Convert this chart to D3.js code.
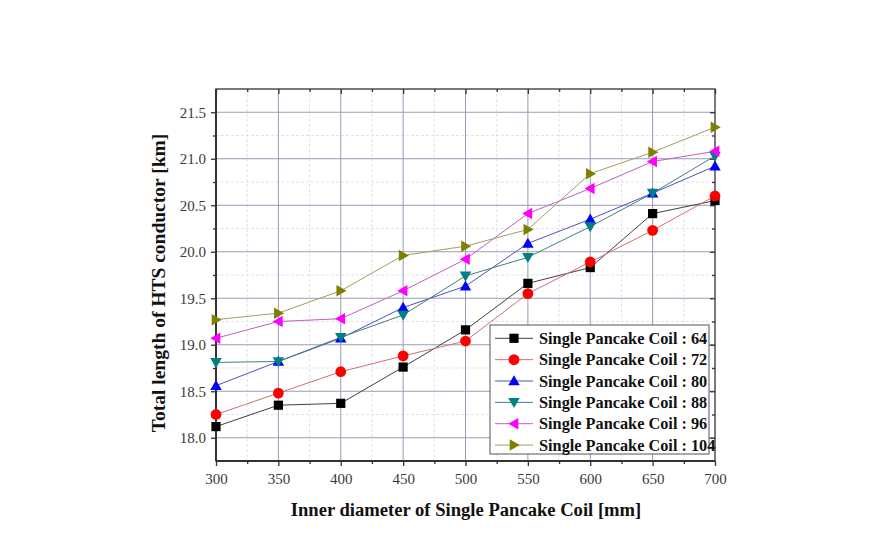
<!DOCTYPE html>
<html><head><meta charset="utf-8">
<script src="https://cdn.jsdelivr.net/npm/d3@7"></script>
<style>body{margin:0;background:#fff}svg{display:block}</style>
</head><body>
<svg id="c" width="891" height="534"></svg>
<script>
const xValues = [300, 350, 400, 450, 500, 550, 600, 650, 700];
const seriesNames = ["Single Pancake Coil : 64","Single Pancake Coil : 72","Single Pancake Coil : 80","Single Pancake Coil : 88","Single Pancake Coil : 96","Single Pancake Coil : 104"];
const coil64  = [18.12, 18.35, 18.37, 18.76, 19.16, 19.66, 19.83, 20.41, 20.55];
const coil72  = [18.25, 18.48, 18.71, 18.88, 19.04, 19.55, 19.89, 20.23, 20.60];
const coil80  = [18.56, 18.82, 19.07, 19.40, 19.63, 20.09, 20.35, 20.63, 20.92];
const coil88  = [18.81, 18.82, 19.08, 19.32, 19.74, 19.94, 20.27, 20.63, 21.03];
const coil96  = [19.07, 19.25, 19.28, 19.58, 19.92, 20.41, 20.68, 20.97, 21.08];
const coil104 = [19.27, 19.34, 19.58, 19.96, 20.06, 20.24, 20.84, 21.07, 21.34];
const xTicks = [300, 350, 400, 450, 500, 550, 600, 650, 700];
const yTicks = [18.0, 18.5, 19.0, 19.5, 20.0, 20.5, 21.0, 21.5];
const xTitle = "Inner diameter of Single Pancake Coil [mm]";
const yTitle = "Total length of HTS conductor [km]";

const allSeries = [coil64, coil72, coil80, coil88, coil96, coil104];
const colors = ["#000000", "#ff0000", "#0000ff", "#008080", "#ff00ff", "#808000"];
const lineColors = ["#404040", "#d07070", "#5050c0", "#408080", "#c060c0", "#a0a060"];
const shapes = ["square", "circle", "up", "down", "left", "right"];

const svg = d3.select("#c");
const L = 216, R = 715, T = 89, B = 461;
const x = d3.scaleLinear().domain([300, 700]).range([L, R]);
const y = d3.scaleLinear().domain([17.75, 21.75]).range([B, T]);

// minor grid
const minorX = d3.range(325, 700, 50);
const minorY = d3.range(17.75, 21.76, 0.5).filter(v => v > 17.76 && v < 21.74);
const g = svg.append("g");
g.selectAll(".mx").data(minorX).join("line")
  .attr("x1", d => x(d)).attr("x2", d => x(d)).attr("y1", T).attr("y2", B)
  .attr("stroke", "#e2e2e8").attr("stroke-width", 1).attr("stroke-dasharray", "3,2");
g.selectAll(".my").data(minorY).join("line")
  .attr("y1", d => y(d)).attr("y2", d => y(d)).attr("x1", L).attr("x2", R)
  .attr("stroke", "#e2e2e8").attr("stroke-width", 1).attr("stroke-dasharray", "3,2");
// major grid
g.selectAll(".gx").data(xTicks.slice(1, -1)).join("line")
  .attr("x1", d => x(d)).attr("x2", d => x(d)).attr("y1", T).attr("y2", B)
  .attr("stroke", "#9a9ab8").attr("stroke-width", 1);
g.selectAll(".gy").data(yTicks).join("line")
  .attr("y1", d => y(d)).attr("y2", d => y(d)).attr("x1", L).attr("x2", R)
  .attr("stroke", "#9a9ab8").attr("stroke-width", 1);

// frame
svg.append("rect").attr("x", L).attr("y", T).attr("width", R - L).attr("height", B - T)
  .attr("fill", "none").attr("stroke", "#333").attr("stroke-width", 1.3);

// axes
const fontSerif = "'Liberation Serif','Times New Roman',serif";
const xAxis = svg.append("g").attr("transform", `translate(0,${B})`)
  .call(d3.axisBottom(x).tickValues(xTicks).tickFormat(d3.format("d")).tickSize(5).tickPadding(7));
const xMinor = svg.append("g").attr("transform", `translate(0,${B})`)
  .call(d3.axisBottom(x).tickValues(minorX).tickFormat("").tickSize(3));
const yAxis = svg.append("g").attr("transform", `translate(${L},0)`)
  .call(d3.axisLeft(y).tickValues(yTicks).tickFormat(d3.format(".1f")).tickSize(5).tickPadding(5));
const yMinor = svg.append("g").attr("transform", `translate(${L},0)`)
  .call(d3.axisLeft(y).tickValues(minorY).tickFormat("").tickSize(3));
const topAxis = svg.append("g").attr("transform", `translate(0,${T})`)
  .call(d3.axisBottom(x).tickValues(xTicks).tickFormat("").tickSize(5));
const topMinor = svg.append("g").attr("transform", `translate(0,${T})`)
  .call(d3.axisBottom(x).tickValues(minorX).tickFormat("").tickSize(3));
const rightAxis = svg.append("g").attr("transform", `translate(${R},0)`)
  .call(d3.axisLeft(y).tickValues(yTicks).tickFormat("").tickSize(5));
const rightMinor = svg.append("g").attr("transform", `translate(${R},0)`)
  .call(d3.axisLeft(y).tickValues(minorY).tickFormat("").tickSize(3));
[xAxis, xMinor, yAxis, yMinor, topAxis, topMinor, rightAxis, rightMinor].forEach(a => {
  a.select(".domain").remove();
  a.selectAll("line").attr("stroke", "#333").attr("stroke-width", 1.3);
  a.selectAll("text").attr("font-family", fontSerif).attr("font-size", 15).attr("fill", "#3a3a3a");
});
svg.append("line").attr("x1", L).attr("x2", R).attr("y1", B).attr("y2", B).attr("stroke", "#333").attr("stroke-width", 2);
svg.append("line").attr("x1", L).attr("x2", L).attr("y1", T).attr("y2", B).attr("stroke", "#333").attr("stroke-width", 2);

// symbols
function symPath(shape, s) {
  if (shape === "square") return `M${-s},${-s}H${s}V${s}H${-s}Z`;
  if (shape === "circle") return d3.symbol(d3.symbolCircle, Math.PI * 5.4 * 5.4)();
  const h = s * 1.25;
  if (shape === "up") return `M0,${-h}L${h},${h * 0.75}L${-h},${h * 0.75}Z`;
  if (shape === "down") return `M0,${h}L${h},${-h * 0.75}L${-h},${-h * 0.75}Z`;
  if (shape === "left") return `M${-h},0L${h * 0.75},${-h}L${h * 0.75},${h}Z`;
  return `M${h},0L${-h * 0.75},${-h}L${-h * 0.75},${h}Z`;
}

const line = d3.line().x(d => x(d[0])).y(d => y(d[1]));
allSeries.forEach((vals, i) => {
  const pts = xValues.map((xv, j) => [xv, vals[j]]);
  svg.append("path").datum(pts).attr("d", line).attr("fill", "none")
    .attr("stroke", lineColors[i]).attr("stroke-width", 1);
});
allSeries.forEach((vals, i) => {
  const pts = xValues.map((xv, j) => [xv, vals[j]]);
  svg.append("g").selectAll("path").data(pts).join("path")
    .attr("transform", d => `translate(${x(d[0])},${y(d[1])})`)
    .attr("d", symPath(shapes[i], 4.6)).attr("fill", colors[i]);
});

// legend
const lg = svg.append("g");
lg.append("rect").attr("x", 490).attr("y", 325).attr("width", 219).attr("height", 129)
  .attr("fill", "#fff").attr("stroke", "#555").attr("stroke-width", 1);
seriesNames.forEach((name, i) => {
  const cy = 338.3 + i * 21.35;
  lg.append("line").attr("x1", 495).attr("x2", 533).attr("y1", cy).attr("y2", cy)
    .attr("stroke", lineColors[i]).attr("stroke-width", 1);
  lg.append("path").attr("transform", `translate(514,${cy})`).attr("d", symPath(shapes[i], 4.6)).attr("fill", colors[i]);
  lg.append("text").attr("x", 539).attr("y", cy + 5.5).text(name)
    .attr("font-family", fontSerif).attr("font-weight", "bold").attr("font-size", 16.3).attr("fill", "#111");
});

// titles
svg.append("text").attr("x", 466).attr("y", 516).attr("text-anchor", "middle").text(xTitle)
  .attr("font-family", fontSerif).attr("font-weight", "bold").attr("font-size", 18.6).attr("fill", "#111");
svg.append("text").attr("transform", "translate(165,283) rotate(-90)").attr("text-anchor", "middle").text(yTitle)
  .attr("font-family", fontSerif).attr("font-weight", "bold").attr("font-size", 19.5).attr("fill", "#111");
</script>
</body></html>
